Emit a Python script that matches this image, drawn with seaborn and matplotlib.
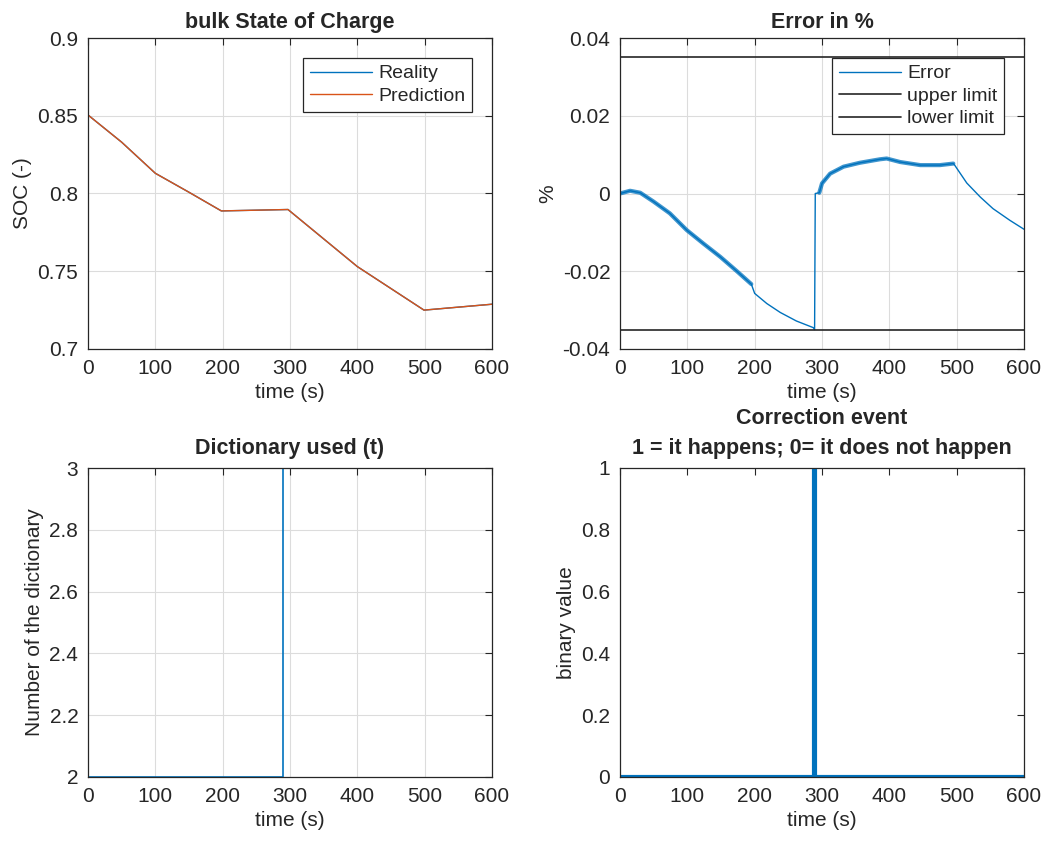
import numpy as np
import pandas as pd
import matplotlib
matplotlib.use("Agg")
import matplotlib.pyplot as plt
import seaborn as sns

# ---- data ----
soc_t = [0, 50, 100, 150, 198, 297, 400, 499, 600]
soc_real = [0.8505, 0.833, 0.813, 0.8008, 0.7888, 0.7897, 0.753, 0.725, 0.7288]
soc_pred = [0.8505, 0.833, 0.813, 0.8008, 0.7888, 0.7897, 0.753, 0.725, 0.7288]

err_t = [0, 15, 30, 50, 74, 99, 124, 149, 173, 195, 200, 218, 238, 262, 287,
         289, 290, 296, 300, 312, 332, 356, 386, 396, 416, 446, 475, 495,
         497, 515, 535, 554, 579, 600]
err_v = [0.0, 0.0007, 0.0002, -0.0021, -0.0051, -0.0094, -0.0129, -0.0163,
         -0.0199, -0.0233, -0.0257, -0.0283, -0.0306, -0.0328, -0.0345,
         -0.035, 0.0, 0.0002, 0.0026, 0.0051, 0.0069, 0.0079, 0.0088, 0.009,
         0.0081, 0.0073, 0.0073, 0.0077, 0.0073, 0.0027, -0.0009, -0.0039,
         -0.0069, -0.0092]
upper_limit = 0.035
lower_limit = -0.035
ripple_ranges = [(0, 195), (296, 495)]   # parts of the error curve with the fast zig-zag

dict_t = [0, 290, 290, 600]
dict_v = [2, 2, 3, 3]

corr_t = [0, 288, 288, 290, 290, 600]
corr_v = [0, 0, 1, 1, 0, 0]

blue = "#0072BD"
orange = "#D95319"
dark = "#262626"

sns.set_style("white")
plt.rcParams["font.family"] = ["Liberation Sans", "DejaVu Sans"]
plt.rcParams["font.size"] = 15

fig = plt.figure(figsize=(10.46, 8.41), dpi=100)
W, H = 1046, 841


def make_ax(x0, y0, x1, y1):
    return fig.add_axes([x0 / W, 1 - y1 / H, (x1 - x0) / W, (y1 - y0) / H])


def matlab_look(ax, grid=True):
    for s in ax.spines.values():
        s.set_color(dark)
        s.set_linewidth(0.9)
    ax.tick_params(direction="in", top=True, right=True, length=5, width=0.8,
                   colors=dark, labelsize=15, pad=7)
    if grid:
        ax.grid(True, color="#dcdcdc", linewidth=0.8)
        ax.set_axisbelow(True)
    ax.set_xlim(0, 600)
    ax.set_xticks([0, 100, 200, 300, 400, 500, 600])
    ax.set_xlabel("time (s)", fontsize=15, color=dark)


def legend_box(ax, fs=14):
    leg = ax.legend(loc="upper right", bbox_to_anchor=(1 - 20 / 404, 1 - 20 / 311),
                    borderaxespad=0, fancybox=False, framealpha=1, edgecolor=dark,
                    fontsize=fs, handlelength=3.2, labelspacing=0.25,
                    borderpad=0.35, handletextpad=0.3)
    leg.get_frame().set_linewidth(0.9)


# ---- top left: SOC ----
ax1 = make_ax(88, 38, 492, 349)
sns.lineplot(x=soc_t, y=soc_real, ax=ax1, color=blue, lw=1.0, label="Reality",
             estimator=None, sort=False)
sns.lineplot(x=soc_t, y=soc_pred, ax=ax1, color=orange, lw=1.0, label="Prediction",
             estimator=None, sort=False)
ax1.set_ylim(0.7, 0.9)
ax1.set_yticks([0.7, 0.75, 0.8, 0.85, 0.9])
ax1.set_yticklabels(["0.7", "0.75", "0.8", "0.85", "0.9"])
ax1.set_ylabel("SOC (-)", fontsize=15, color=dark)
ax1.set_title("bulk State of Charge", fontsize=15.5, fontweight="bold", pad=7)
matlab_look(ax1)
legend_box(ax1)

# ---- top right: error ----
ax2 = make_ax(620, 38, 1024, 349)
err = pd.DataFrame({"t": err_t, "v": err_v})
sns.lineplot(data=err, x="t", y="v", ax=ax2, color=blue, lw=1.0, label="Error",
             estimator=None, sort=False)
for a, b in ripple_ranges:
    seg = err[(err.t >= a) & (err.t <= b)]
    sns.lineplot(data=seg, x="t", y="v", ax=ax2, color=blue, lw=3.0, alpha=0.75,
                 estimator=None, sort=False, legend=False)
sns.lineplot(x=[0, 600], y=[upper_limit, upper_limit], ax=ax2, color=dark, lw=1.2,
             label="upper limit", estimator=None)
sns.lineplot(x=[0, 600], y=[lower_limit, lower_limit], ax=ax2, color=dark, lw=1.2,
             label="lower limit", estimator=None)
ax2.set_ylim(-0.04, 0.04)
ax2.set_yticks([-0.04, -0.02, 0, 0.02, 0.04])
ax2.set_yticklabels(["-0.04", "-0.02", "0", "0.02", "0.04"])
ax2.set_ylabel("%", fontsize=15, color=dark)
ax2.set_title("Error in %", fontsize=15.5, fontweight="bold", pad=7)
matlab_look(ax2)
legend_box(ax2)

# ---- bottom left: dictionary ----
ax3 = make_ax(88, 468, 492, 777)
sns.lineplot(x=dict_t, y=dict_v, ax=ax3, color=blue, lw=1.2, estimator=None, sort=False)
ax3.set_ylim(2, 3)
ax3.set_yticks([2, 2.2, 2.4, 2.6, 2.8, 3])
ax3.set_yticklabels(["2", "2.2", "2.4", "2.6", "2.8", "3"])
ax3.set_ylabel("Number of the dictionary", fontsize=15, color=dark)
ax3.set_title("Dictionary used (t)", fontsize=15.5, fontweight="bold", pad=10)
matlab_look(ax3)

# ---- bottom right: correction event ----
ax4 = make_ax(620, 468, 1024, 777)
sns.lineplot(x=corr_t, y=corr_v, ax=ax4, color=blue, lw=3.0, estimator=None, sort=False)
ax4.set_ylim(0, 1)
ax4.set_yticks([0, 0.2, 0.4, 0.6, 0.8, 1])
ax4.set_yticklabels(["0", "0.2", "0.4", "0.6", "0.8", "1"])
ax4.set_ylabel("binary value", fontsize=15, color=dark)
ax4.set_title("Correction event\n1 = it happens; 0= it does not happen",
              fontsize=15.5, fontweight="bold", pad=10, linespacing=1.55)
matlab_look(ax4, grid=False)

fig.savefig("out.png", dpi=100, facecolor="white")
